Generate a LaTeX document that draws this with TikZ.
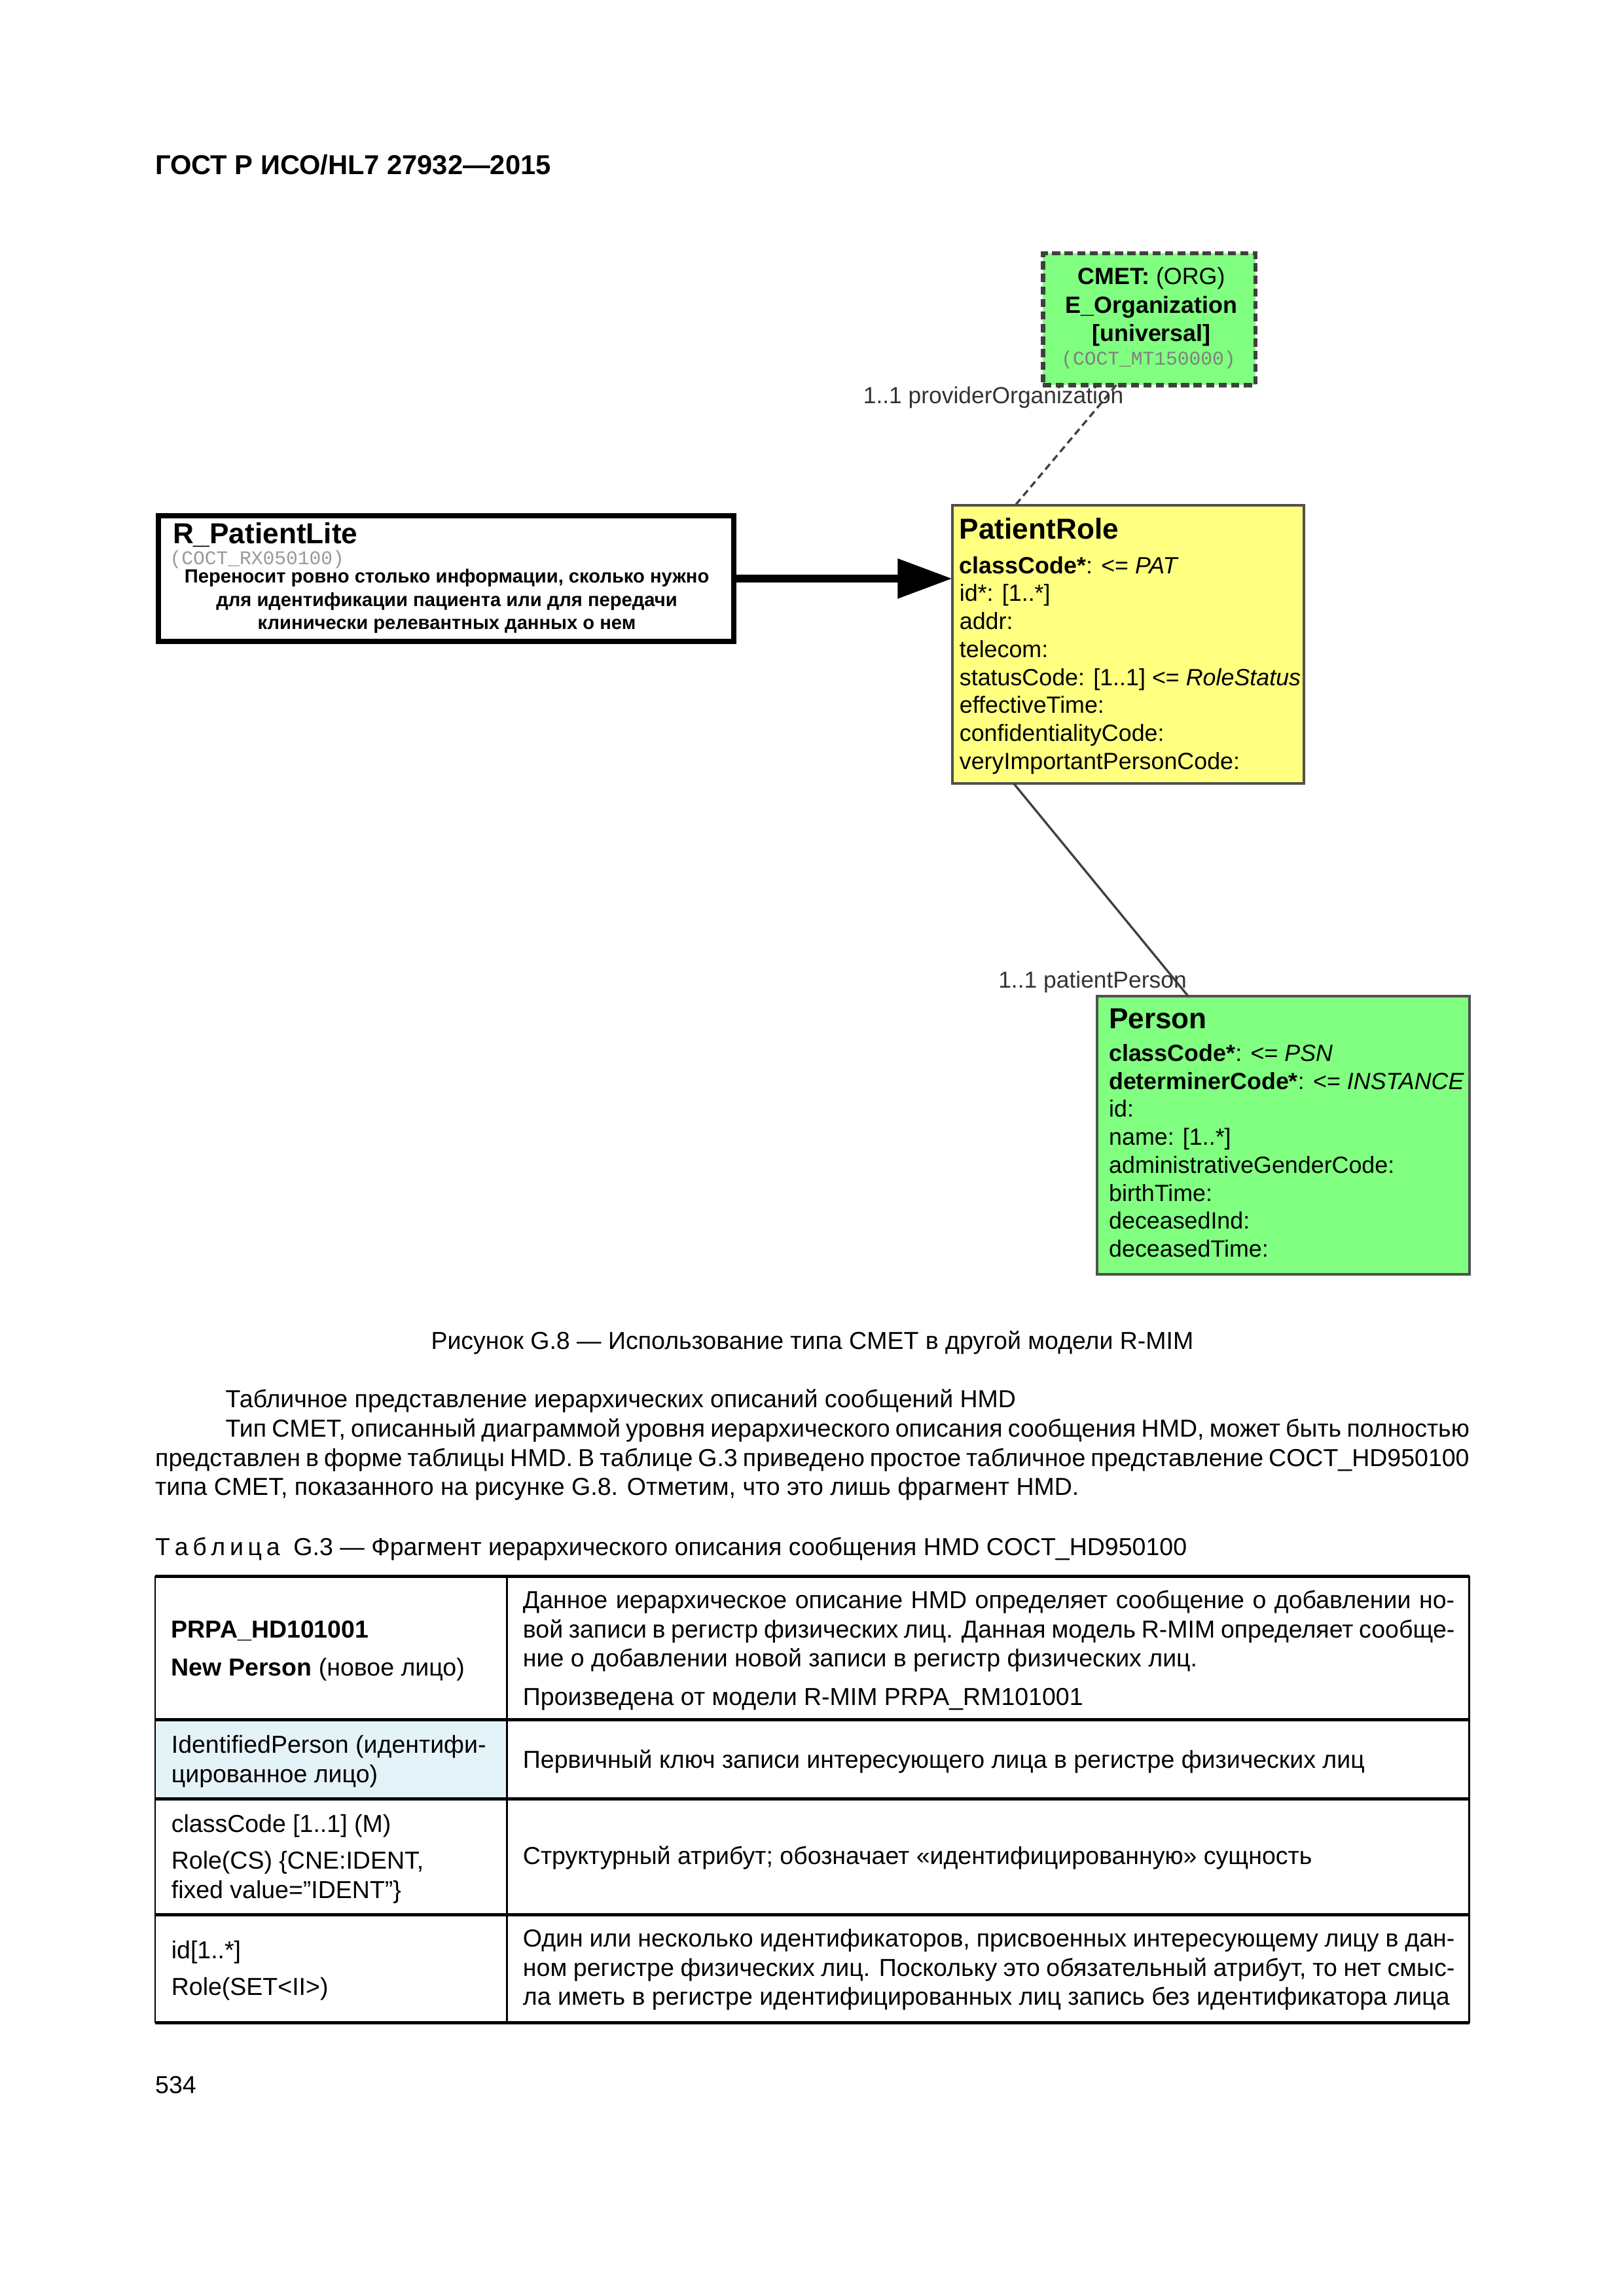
\documentclass[tikz,border=0pt]{standalone}
\usepackage{fontspec}
\setmainfont{Liberation Sans}
\setmonofont{Liberation Mono}
\usetikzlibrary{arrows.meta,calc}
\definecolor{umlyellow}{HTML}{FFFF80}
\definecolor{umlgreen}{HTML}{80FF80}
\definecolor{cellcyan}{HTML}{E4F3F7}
\definecolor{umlborder}{HTML}{505050}
\newcommand{\jline}[2]{\makebox[#1][s]{#2}}
\newcommand{\lsp}{\kern1.6pt}
\begin{document}
\begin{tikzpicture}[x=0.5371pt,y=-0.5371pt,
  every node/.style={inner sep=0pt,outer sep=0pt},
  umlbox/.style={draw=umlborder,line width=1pt,anchor=north west},
  umltitle/.style={font=\fontsize{10.6}{12}\selectfont\bfseries,anchor=base west},
  attr/.style={font=\fontsize{8.6}{10}\selectfont,anchor=base west},
  cmetline/.style={font=\fontsize{8.6}{10}\selectfont,anchor=base},
  codeline/.style={font=\fontsize{7.1}{8}\selectfont\ttfamily,text=black!50},
  desc/.style={font=\fontsize{7}{8.4}\selectfont\bfseries,anchor=base},
  lbl/.style={font=\fontsize{8.5}{10}\selectfont,text=black!80,anchor=base east},
  body/.style={font=\fontsize{9}{10.8}\selectfont,anchor=base west},
  conn/.style={draw=black!75,line width=0.8pt},
  bigarrow/.style={line width=2.7pt,-{Triangle[length=20pt,width=14pt]}},
  hrule/.style={line width=1.2pt},
  vrule/.style={line width=0.6pt}]
\useasboundingbox (0,0) rectangle (1108.3,1567.5);

% header
\node[font=\fontsize{10}{12}\selectfont\bfseries,anchor=base west] (hdr) at (106,119) {ГОСТ Р ИСО/HL7 27932—2015};

% CMET box
\node[umlbox,draw=black!75,fill=umlgreen,line width=1.5pt,dash pattern=on 3pt off 1.6pt,minimum width=77.9pt,minimum height=48.3pt] (cmet) at (712,173) {};
\node[cmetline] (cm1) at (786,194) {\textbf{CMET:} (ORG)};
\node[cmetline,font=\fontsize{8.6}{10}\selectfont\bfseries] (cm2) at (786,214) {E\_Organization};
\node[cmetline,font=\fontsize{8.6}{10}\selectfont\bfseries] (cm3) at (786,233) {[universal]};
\node[codeline,anchor=base] (cm4) at (784,249) {(COCT\_MT150000)};

% R_PatientLite box
\node[umlbox,draw=black,fill=white,line width=2pt,minimum width=211.1pt,minimum height=46.2pt] (rpl) at (108,352) {};
\node[umltitle] (rplt) at (118,371) {R\_PatientLite};
\node[codeline,anchor=base west,text=black!40] (rplc) at (116,385.5) {(COCT\_RX050100)};
\node[desc] (rpd1) at (305,398) {Переносит ровно столько информации, сколько нужно};
\node[desc] (rpd2) at (305,414) {для идентификации пациента или для передачи};
\node[desc] (rpd3) at (305,429.5) {клинически релевантных данных о нем};

% PatientRole box
\node[umlbox,fill=umlyellow,minimum width=128.9pt,minimum height=102pt] (pr) at (650,345) {};
\node[umltitle] (prt) at (655,368) {PatientRole};
\foreach \t [count=\i] in {
  {\textbf{classCode*}: <= \textit{PAT}},
  {id*: [1..*]},
  {addr:},
  {telecom:},
  {statusCode: [1..1] <= \textit{RoleStatus}},
  {effectiveTime:},
  {confidentialityCode:},
  {veryImportantPersonCode:}}
  \node[attr] (pra\i) at (655,{391.5+19.1*(\i-1)}) {\t};

% Person box
\node[umlbox,fill=umlgreen,minimum width=136.4pt,minimum height=102pt] (ps) at (749,680) {};
\node[umltitle] (pst) at (757,702) {Person};
\foreach \t [count=\i] in {
  {\textbf{classCode*}: <= \textit{PSN}},
  {\textbf{determinerCode*}: <= \textit{INSTANCE}},
  {id:},
  {name: [1..*]},
  {administrativeGenderCode:},
  {birthTime:},
  {deceasedInd:},
  {deceasedTime:}}
  \node[attr] (psa\i) at (757,{724.5+19.1*(\i-1)}) {\t};

% connectors
\coordinate (cmB) at ($(cmet.south west)+(50,0)$);
\coordinate (prT) at ($(pr.north west)+(43,0)$);
\coordinate (prB) at ($(pr.south west)+(42,0)$);
\coordinate (psT) at ($(ps.north west)+(62,0)$);
\draw[conn,dash pattern=on 2.6pt off 1.6pt] (cmB) -- (prT);
\draw[conn] (prB) -- (psT);
\node[lbl] (lpo) at (767,275.5) {1..1 providerOrganization};
\node[lbl] (lpp) at (810,674.5) {1..1 patientPerson};
\draw[bigarrow] (rpl.east) -- (rpl.east -| pr.west);

% caption and body text
\node[body,anchor=base] (cap) at (554.5,921) {Рисунок G.8 — Использование типа CMET в другой модели R-MIM};
\node[body] (b1) at (154,961) {Табличное представление иерархических описаний сообщений HMD};
\node[body] (b2) at (154,981) {\jline{456pt}{Тип CMET, описанный диаграммой уровня иерархического описания сообщения HMD, может быть полностью}};
\node[body] (b3) at (106,1001) {\jline{481.8pt}{представлен в форме таблицы HMD. В таблице G.3 приведено простое табличное представление COCT\_HD950100}};
\node[body] (b4) at (106,1021) {типа CMET, показанного на рисунке G.8. Отметим, что это лишь фрагмент HMD.};
\node[body] (tt) at (106,1062) {Т\lsp а\lsp б\lsp л\lsp и\lsp ц\lsp а\ \ G.3 — Фрагмент иерархического описания сообщения HMD COCT\_HD950100};

% table
\fill[cellcyan] (106,1174) rectangle (346,1228);
\draw[hrule] (106,1076) -- (1003,1076);
\draw[hrule] (106,1174) -- (1003,1174);
\draw[hrule] (106,1228) -- (1003,1228);
\draw[hrule] (106,1307) -- (1003,1307);
\draw[hrule] (106,1381) -- (1003,1381);
\draw[vrule] (106,1076) -- (106,1381);
\draw[vrule] (346,1076) -- (346,1381);
\draw[vrule] (1003,1076) -- (1003,1381);

\node[body] (c11a) at (117,1118) {\textbf{PRPA\_HD101001}};
\node[body] (c11b) at (117,1144) {\textbf{New Person} (новое лицо)};
\node[body] (c12a) at (357,1098) {\jline{341.6pt}{Данное иерархическое описание HMD определяет сообщение о добавлении но-}};
\node[body] (c12b) at (357,1118) {\jline{341.6pt}{вой записи в регистр физических лиц. Данная модель R-MIM определяет сообще-}};
\node[body] (c12c) at (357,1138) {ние о добавлении новой записи в регистр физических лиц.};
\node[body] (c12d) at (357,1164) {Произведена от модели R-MIM PRPA\_RM101001};

\node[body] (c21a) at (117,1197) {IdentifiedPerson (идентифи-};
\node[body] (c21b) at (117,1217) {цированное лицо)};
\node[body] (c22) at (357,1207) {Первичный ключ записи интересующего лица в регистре физических лиц};

\node[body] (c31a) at (117,1251) {classCode [1..1] (M)};
\node[body] (c31b) at (117,1276) {Role(CS) \{CNE:IDENT,};
\node[body] (c31c) at (117,1296) {fixed value=”IDENT”\}};
\node[body] (c32) at (357,1273) {Структурный атрибут; обозначает «идентифицированную» сущность};

\node[body] (c41a) at (117,1337) {id[1..*]};
\node[body] (c41b) at (117,1362) {Role(SET<II>)};
\node[body] (c42a) at (357,1329) {\jline{341.6pt}{Один или несколько идентификаторов, присвоенных интересующему лицу в дан-}};
\node[body] (c42b) at (357,1349) {\jline{341.6pt}{ном регистре физических лиц. Поскольку это обязательный атрибут, то нет смыс-}};
\node[body] (c42c) at (357,1369) {ла иметь в регистре идентифицированных лиц запись без идентификатора лица};

\node[body] (pg) at (106,1429) {534};
\end{tikzpicture}
\end{document}
